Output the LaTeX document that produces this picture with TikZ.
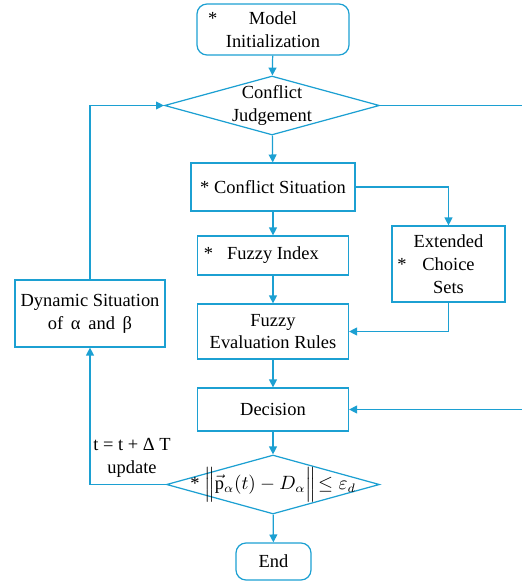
\documentclass[tikz,border=0pt]{standalone}
\usepackage{amsmath}
\usepackage{fontspec}
\setmainfont{Liberation Serif}
\usepackage{tikz}
\usetikzlibrary{shapes.geometric,arrows.meta}

\definecolor{flowblue}{RGB}{28,160,210}

\tikzset{
  box/.style={draw=flowblue, line width=0.7pt, align=center, inner sep=1pt},
  roundbox/.style={box, rounded corners=0.2cm},
  judge/.style={draw=flowblue, line width=0.7pt, diamond, align=center,
    inner xsep=-45pt, inner ysep=-20pt, minimum width=4.3cm, minimum height=1.18cm},
  flow/.style={draw=flowblue, line width=0.7pt, -{Triangle[length=4.5pt,width=4.5pt]}},
  wire/.style={draw=flowblue, line width=0.7pt}
}

\begin{document}
\begin{tikzpicture}[x=0.02cm, y=-0.02cm, font=\fontsize{10.5}{13}\selectfont]
  \useasboundingbox (0,0) rectangle (521,587);

  \node[roundbox, minimum width=3.04cm, minimum height=1.02cm] (init) at (273,29.5)
    {\llap{*\hspace{18pt}}Model\\Initialization};
  \node[judge] (conf) at (272,105.5) {Conflict\\Judgement};
  \node[box, minimum width=3.28cm, minimum height=0.96cm] (sit) at (273,187) {* Conflict Situation};
  \node[box, minimum width=3.02cm, minimum height=0.78cm] (index) at (273,255.5)
    {\llap{*\hspace{8pt}}Fuzzy Index};
  \node[box, minimum width=2.26cm, minimum height=1.52cm] (ext) at (448.5,264)
    {Extended\\\llap{*\hspace{9pt}}Choice\\Sets};
  \node[box, minimum width=3.02cm, minimum height=1.1cm] (rules) at (273,331.5)
    {Fuzzy\\Evaluation Rules};
  \node[box, minimum width=3.02cm, minimum height=0.86cm] (dec) at (273,409.5) {Decision};
  \node[judge, minimum width=4.26cm, inner ysep=-10pt] (check) at (273,484.5)
    {* $\Big\|\vec{\mathrm{p}}_{\alpha}(t)-D_{\alpha}\Big\|\!\le\varepsilon_{d}$};
  \node[roundbox, minimum width=1.5cm, minimum height=0.74cm] (end) at (273.5,561.5) {End};
  \node[box, minimum width=3.0cm, minimum height=1.34cm] (dyn) at (90,313.5)
    {Dynamic Situation\\of \,α\, and \,β};
  \node[align=center, inner sep=0pt] (upd) at (132,458) {t = t + Δ T\\update};

  \coordinate (far) at (523,0);

  % main line
  \draw[flow] (init) -- (conf);
  \draw[flow] (conf) -- (sit);
  \draw[flow] (sit) -- (index);
  \draw[flow] (index) -- (rules);
  \draw[flow] (rules) -- (dec);
  \draw[flow] (dec) -- (check);
  \draw[flow] (check) -- (end);

  % side branches
  \draw[flow] (sit.east) -| (ext.north);
  \draw[flow] (ext.south) |- (rules.east);
  \draw[flow] (conf.east) -- (conf.east -| far) |- (dec.east);

  % feedback loop
  \draw[flow] (check.west) -| (dyn.south);
  \draw[flow] (dyn.north) |- (conf.west);
\end{tikzpicture}
\end{document}
